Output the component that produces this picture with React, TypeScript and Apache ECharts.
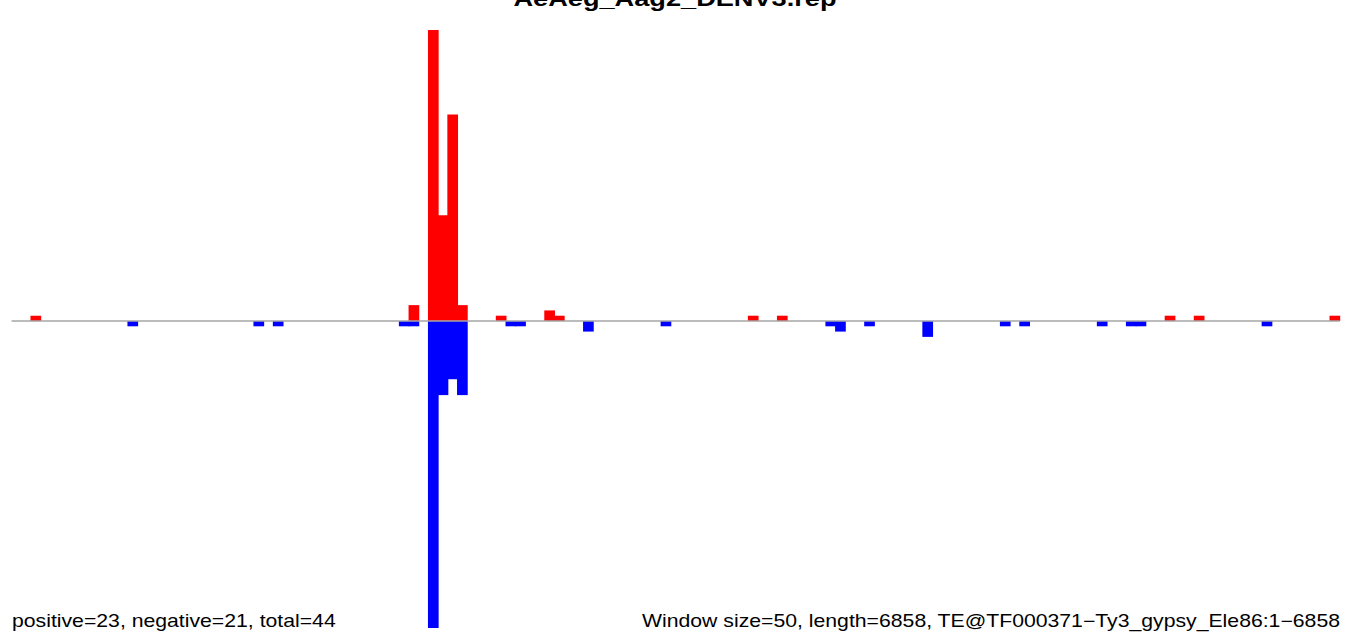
import React, { useEffect, useRef } from "react";
import * as echarts from "echarts";

const TITLE = "AeAeg_Aag2_DENV3.rep";
const LEFT_NOTE = "positive=23, negative=21, total=44";
const RIGHT_NOTE = "Window size=50, length=6858, TE@TF000371\u2212Ty3_gypsy_Ele86:1\u22126858";
const BIN_COUNT = 137;
const Y_LIMIT = 58;

const posBins = [2, 41, 43, 44, 45, 46, 50, 55, 56, 76, 79, 119, 122, 136];
const posVals = [1, 3, 55, 20, 39, 3, 1, 2, 1, 1, 1, 1, 1, 1];
const negBins = [12, 25, 27, 40, 41, 43, 44, 45, 46, 51, 52, 59, 67, 84, 85, 88, 94, 102, 104, 112, 115, 116, 129];
const negVals = [1, 1, 1, 1, 1, 58, 14, 11, 14, 1, 1, 2, 1, 1, 2, 1, 3, 1, 1, 1, 1, 1, 1];

const categories = Array.from({ length: BIN_COUNT }, (_, i) => String(i + 1));

function pairs(bins: number[], vals: number[], sign: number) {
  return bins.map((b, k) => [b, sign * vals[k]]);
}

function makeRenderItem(color: string) {
  return (params: any, api: any) => {
    const idx = api.value(0);
    const val = api.value(1);
    const top = api.coord([idx, val]);
    const base = api.coord([idx, 0]);
    const w = api.size([1, 0])[0];
    return {
      type: "rect",
      shape: {
        x: base[0] - w / 2 - 0.5,
        y: Math.min(top[1], base[1]),
        width: w + 1,
        height: Math.abs(base[1] - top[1]),
      },
      style: { fill: color },
    };
  };
}

export default function App() {
  const ref = useRef<HTMLDivElement>(null);
  useEffect(() => {
    if (!ref.current) return;
    const chart = echarts.init(ref.current, undefined, { renderer: "svg" });
    const stretch = 1.213;
    chart.setOption({
      animation: false,
      backgroundColor: "#ffffff",
      grid: { left: 11.6, top: 14, width: 1328.1, height: 614, containLabel: false },
      xAxis: {
        type: "category",
        data: categories,
        boundaryGap: true,
        axisLine: { show: false },
        axisTick: { show: false },
        axisLabel: { show: false },
        splitLine: { show: false },
      },
      yAxis: {
        type: "value",
        min: -Y_LIMIT,
        max: Y_LIMIT,
        show: false,
        splitLine: { show: false },
      },
      series: [
        {
          type: "custom",
          name: "positive",
          data: pairs(posBins, posVals, 1),
          encode: { x: 0, y: 1 },
          renderItem: makeRenderItem("#ff0000"),
          z: 2,
        },
        {
          type: "custom",
          name: "negative",
          data: pairs(negBins, negVals, -1),
          encode: { x: 0, y: 1 },
          renderItem: makeRenderItem("#0000ff"),
          z: 2,
          markLine: {
            silent: true,
            symbol: "none",
            label: { show: false },
            lineStyle: { color: "#a6a6a6", width: 1.6, type: "solid" },
            data: [{ yAxis: 0 }],
            z: 5,
          },
        },
      ],
      graphic: [
        {
          type: "text",
          x: 675,
          y: -1.8,
          scaleX: stretch,
          style: {
            text: TITLE,
            fill: "#000",
            font: "bold 22.4px 'Liberation Sans', Arial, sans-serif",
            align: "center",
            verticalAlign: "middle",
          },
        },
        {
          type: "text",
          x: 12,
          y: 620.6,
          scaleX: stretch,
          style: {
            text: LEFT_NOTE,
            fill: "#000",
            font: "17.5px 'Liberation Sans', Arial, sans-serif",
            align: "left",
            verticalAlign: "middle",
          },
        },
        {
          type: "text",
          x: 1340,
          y: 620.6,
          scaleX: stretch,
          style: {
            text: RIGHT_NOTE,
            fill: "#000",
            font: "17.5px 'Liberation Sans', Arial, sans-serif",
            align: "right",
            verticalAlign: "middle",
          },
        },
      ],
    });
    return () => chart.dispose();
  }, []);
  return (
    <div
      ref={ref}
      style={{ position: "fixed", left: 0, top: 0, width: 1349, height: 636, background: "#fff" }}
    />
  );
}
